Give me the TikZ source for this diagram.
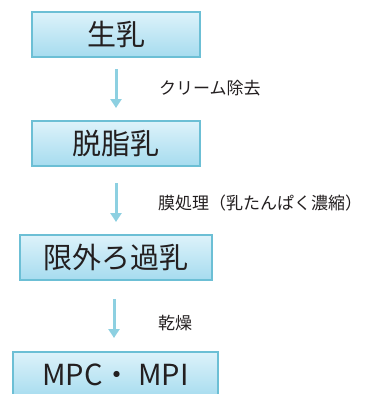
\documentclass[tikz,border=0pt]{standalone}
\usepackage{fontspec}
\newfontfamily\cjk{Noto Sans CJK JP}
\usetikzlibrary{arrows.meta}
\definecolor{boxtop}{HTML}{DDF2FA}
\definecolor{boxbot}{HTML}{A6DCEF}
\definecolor{boxline}{HTML}{6CBFD5}
\definecolor{arr}{HTML}{8DD0E1}
\definecolor{txt}{HTML}{231F20}
\tikzset{
  stepbox/.style={draw=boxline, line width=1.8pt, top color=boxtop, bottom color=boxbot,
    minimum height=45pt, inner sep=0pt, font=\cjk\fontsize{29}{32}\selectfont, text=txt},
  flow/.style={draw=arr, line width=3pt, -{Triangle[width=11pt,length=9pt]}},
  lbl/.style={anchor=west, font=\cjk\fontsize{17}{20}\selectfont, text=txt, inner sep=0pt}
}
\begin{document}
\begin{tikzpicture}[x=1pt,y=-1pt]
\useasboundingbox (0,0) rectangle (366,394);
\node[stepbox, minimum width=168pt] (b1) at (116,34.5) {生乳};
\node[stepbox, minimum width=168pt] (b2) at (116,143.5) {脱脂乳};
\node[stepbox, minimum width=192pt] (b3) at (116,257.5) {限外ろ過乳};
\node[stepbox, minimum width=205pt, minimum height=46pt] (b4) at (115.5,375) {MPC・ MPI};
\coordinate (a1s) at (116,69); \coordinate (a1e) at (116,108);
\coordinate (a2s) at (116,183); \coordinate (a2e) at (116,222);
\coordinate (a3s) at (114,299); \coordinate (a3e) at (114,338);
\draw[flow] (a1s) -- (a1e);
\draw[flow] (a2s) -- (a2e);
\draw[flow] (a3s) -- (a3e);
\node[lbl] (l1) at (159,88) {クリーム除去};
\node[lbl] (l2) at (158,203) {膜処理（乳たんぱく濃縮）};
\node[lbl] (l3) at (158,323) {乾燥};
\end{tikzpicture}
\end{document}
